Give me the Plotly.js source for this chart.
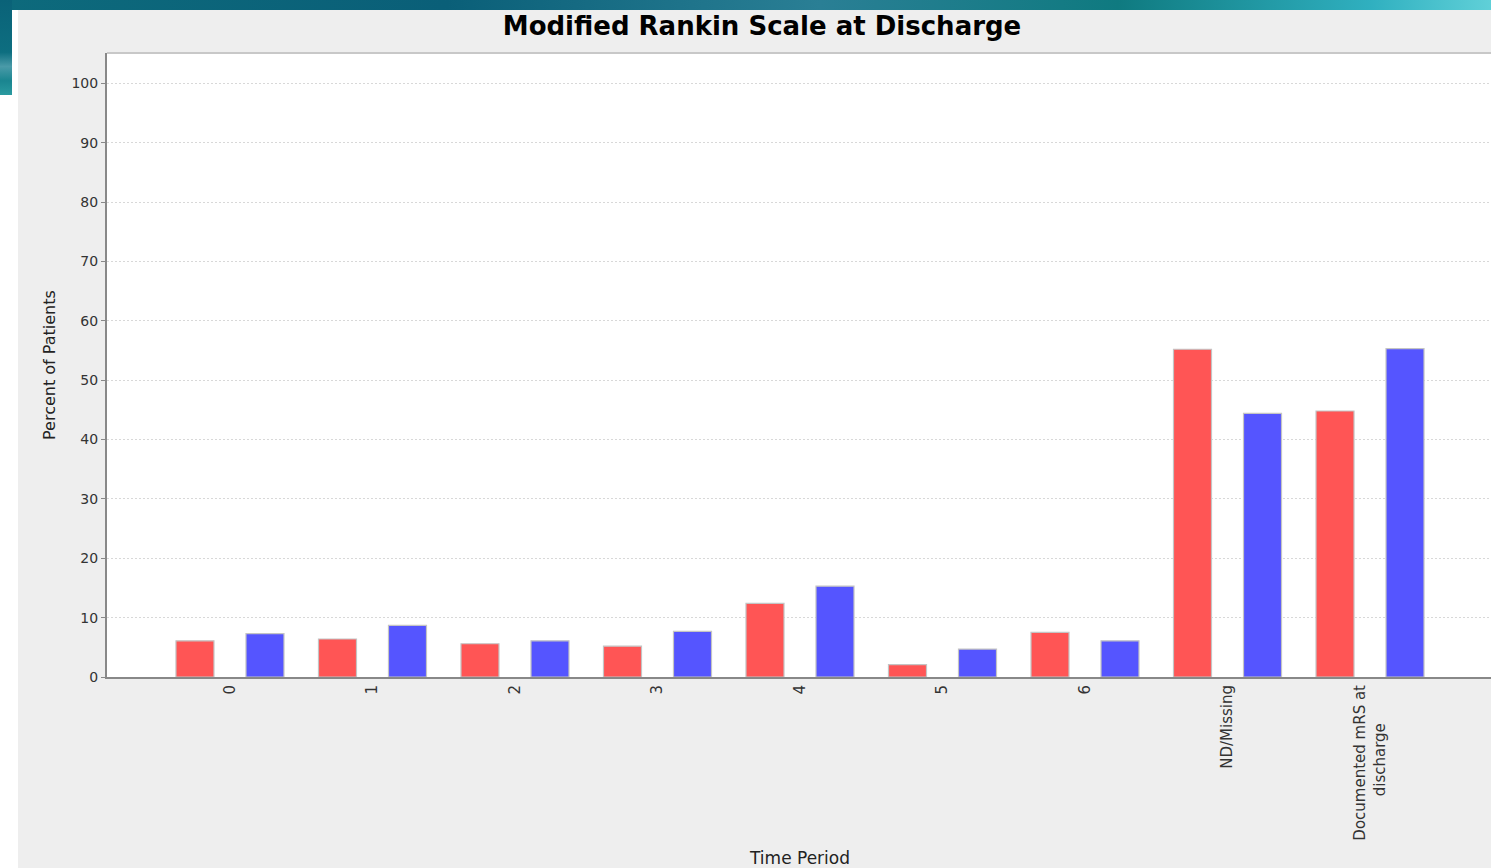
<!DOCTYPE html>
<html>
<head>
<meta charset="utf-8">
<script src="https://cdn.plot.ly/plotly-3.0.1.min.js"></script>
<style>
  html, body { margin: 0; padding: 0; width: 1491px; height: 868px; overflow: hidden; background: #ffffff; }
  #topband { position: absolute; left: 0; top: 0; width: 1491px; height: 10px;
    background: linear-gradient(90deg, #0d6a7c 0%, #0a5f78 30%, #2a7f95 55%, #0f7a80 75%, #30b0c0 92%, #60d0d8 100%); }
  #leftband { position: absolute; left: 0; top: 0; width: 12px; height: 95px;
    background: linear-gradient(180deg, #0a6278 0%, #0d6e80 55%, #4a9aa8 70%, #1a8590 85%, #2a9aa0 100%); }
  #chart { position: absolute; left: 18px; top: 10px; width: 1473px; height: 858px; }
</style>
</head>
<body>
<div id="topband"></div>
<div id="leftband"></div>
<div id="chart"></div>
<script>
const categories = ["0", "1", "2", "3", "4", "5", "6", "ND/Missing", "Documented mRS at\ndischarge"];
const seriesRed = [6.1, 6.4, 5.6, 5.2, 12.4, 2.1, 7.5, 55.2, 44.8];
const seriesBlue = [7.3, 8.7, 6.1, 7.7, 15.3, 4.7, 6.1, 44.4, 55.3];
const yTickValues = [0, 10, 20, 30, 40, 50, 60, 70, 80, 90, 100];
const chartTitle = "Modified Rankin Scale at Discharge";
const xTitle = "Time Period";
const yTitle = "Percent of Patients";

const idx = categories.map((c, i) => i);
// Multi-line labels: lines are centred (as in the original) by padding the shorter line.
const tickText = categories.map(c => {
  const lines = c.split("\n");
  if (lines.length === 1) return c;
  const longest = Math.max(...lines.map(l => l.length));
  return lines.map(l => l + "&nbsp;".repeat(Math.round((longest - l.length) * 0.95))).join("<br>");
});
const outline = { color: "#c4c4c4", width: 1.2 };

const traces = [
  { type: "bar", x: idx, y: seriesRed, marker: { color: "#ff5555", line: outline }, name: "A", hoverinfo: "y" },
  { type: "bar", x: idx, y: seriesBlue, marker: { color: "#5555ff", line: outline }, name: "B", hoverinfo: "y" }
];

const font = "DejaVu Sans, Verdana, sans-serif";

const layout = {
  width: 1473, height: 858,
  margin: { l: 89, r: 0, t: 43, b: 191, pad: 0 },
  paper_bgcolor: "#eeeeee",
  plot_bgcolor: "#ffffff",
  showlegend: false,
  barmode: "group",
  bargap: 0.0175,
  bargroupgap: 0.457,
  title: {
    text: "<b>" + chartTitle + "</b>",
    font: { family: font, size: 26, color: "#000000" },
    xref: "container", x: 0.5051, xanchor: "center",
    yref: "container", y: 0.9814, yanchor: "middle"
  },
  xaxis: {
    range: [-0.863, 8.849],
    tickmode: "array", tickvals: idx, ticktext: tickText,
    tickangle: -90,
    tickfont: { family: font, size: 15, color: "#333333" },
    showgrid: false, zeroline: false,
    showline: true, linecolor: "#888888", linewidth: 2,
    ticks: "", automargin: false
  },
  yaxis: {
    range: [0, 105.1],
    tickmode: "array", tickvals: yTickValues,
    tickfont: { family: font, size: 14, color: "#333333" },
    showgrid: true, gridcolor: "#d8d8d8", griddash: "2px,2px", gridwidth: 1,
    zeroline: false,
    showline: true, linecolor: "#888888", linewidth: 2,
    ticks: "outside", ticklen: 4, tickcolor: "#888888", tickwidth: 1,
    automargin: false
  },
  shapes: [
    { type: "line", xref: "paper", yref: "paper", x0: 0, x1: 1, y0: 1, y1: 1,
      line: { color: "#c8c8c8", width: 2 } }
  ],
  annotations: [
    { text: yTitle, xref: "paper", yref: "paper", x: 0, y: 0.5,
      xshift: -58, xanchor: "center", yanchor: "middle", textangle: -90, showarrow: false,
      font: { family: font, size: 16, color: "#222222" } },
    { text: xTitle, xref: "paper", yref: "paper", x: 0.5, y: 0,
      yshift: -181, xanchor: "center", yanchor: "middle", showarrow: false,
      font: { family: font, size: 17, color: "#222222" } }
  ]
};

Plotly.newPlot("chart", traces, layout, { displayModeBar: false, staticPlot: true });
</script>
</body>
</html>
